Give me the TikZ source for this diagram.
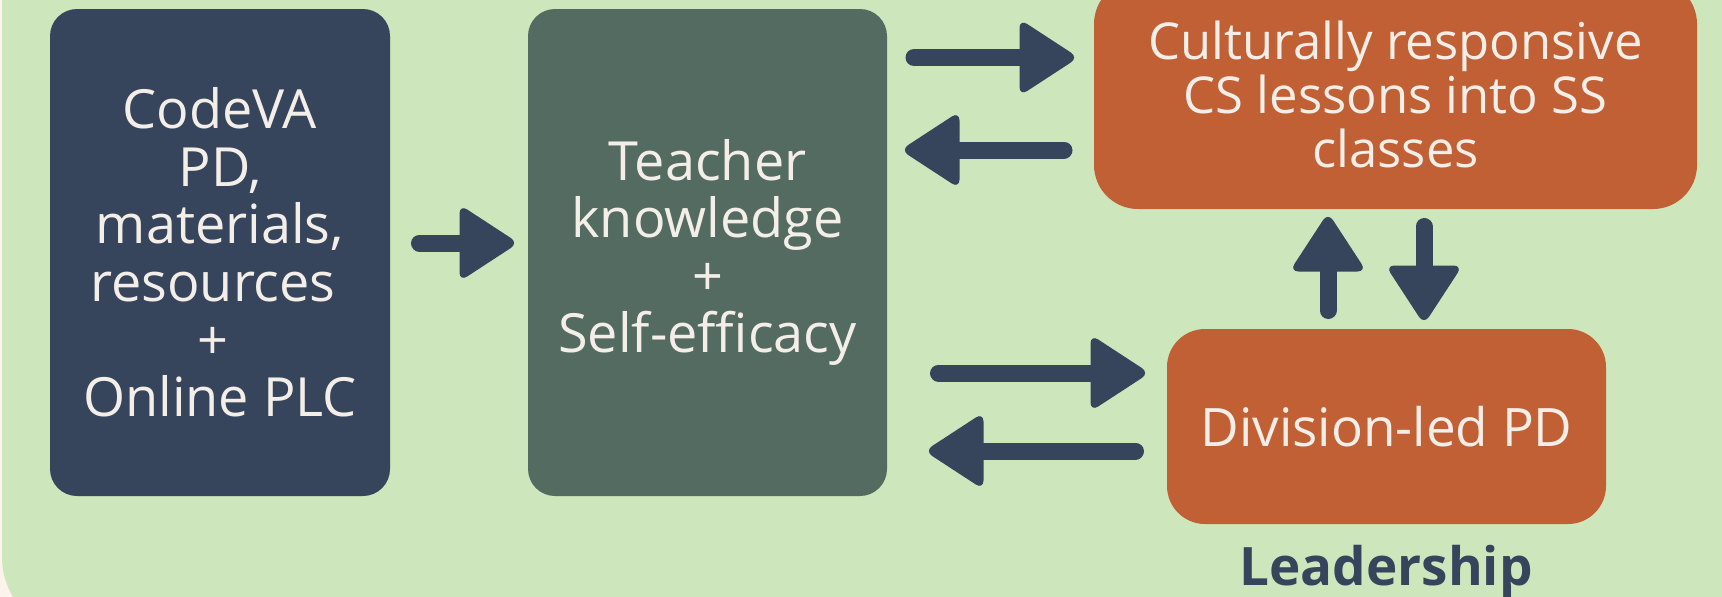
\documentclass[tikz,border=0pt]{standalone}
\usepackage{fontspec}
\setmainfont{Open Sans}
\usetikzlibrary{calc}

\definecolor{bggreen}{HTML}{CDE6BC}
\definecolor{cream}{HTML}{FCF3EA}
\definecolor{navy}{HTML}{36455C}
\definecolor{slate}{HTML}{536B61}
\definecolor{rust}{HTML}{C06034}
\definecolor{paper}{HTML}{F4EEE8}

\tikzset{
  panel/.style={rectangle, inner sep=0pt, align=center, text=paper,
    font=\fontsize{54pt}{57.6pt}\selectfont},
  blkshaft/.style={draw=navy, line width=17pt, line cap=round},
  blkhead/.style={fill=navy, rounded corners=9pt}
}

% block arrow from #1 to #2; the rounded tip ends at #2
\newcommand{\blockarrow}[2]{%
  \draw[blkshaft] (#1) -- ($(#2)!48pt!(#1)$);
  \fill[blkhead] ($(#2)!-5.5pt!(#1)$)
    -- ($(#2)!-5.5pt!(#1)!59pt!(#1)!38.5pt!90:(#1)$)
    -- ($(#2)!-5.5pt!(#1)!59pt!(#1)!38.5pt!-90:(#1)$) -- cycle;
}

\begin{document}
\begin{tikzpicture}[x=1pt, y=-1pt]
  \useasboundingbox (0,0) rectangle (1722,597);
  \fill[cream] (0,0) rectangle (1722,597);
  \fill[bggreen, rounded corners=78pt] (2,-100) rectangle (1800,635);

  \node[panel, fill=navy, rounded corners=27pt,
        minimum width=340pt, minimum height=487pt] (codeva) at (220,252.5)
    {CodeVA\\PD,\\materials,\\resources\kern0.26em\\+\kern0.26em\\Online PLC};

  \node[panel, fill=slate, rounded corners=27pt,
        minimum width=359pt, minimum height=487pt] (teacher) at (707.5,252.5)
    {Teacher\\knowledge\\+\\Self-efficacy};

  \node[panel, fill=rust, rounded corners=44pt,
        minimum width=603pt, minimum height=229pt,
        font=\fontsize{50.8pt}{53.8pt}\selectfont] (lessons) at (1395.5,94.5)
    {Culturally responsive\\CS lessons into SS\\classes};

  \node[panel, fill=rust, rounded corners=38pt,
        minimum width=439pt, minimum height=195pt,
        font=\fontsize{53pt}{57pt}\selectfont] (division) at (1386.5,426.5)
    {Division-led PD};

  \node[anchor=base, text=navy, font=\bfseries\fontsize{53pt}{57pt}\selectfont]
    (lead) at (1386,585) {Leadership};

  % arrow end points
  \coordinate (a1s) at (419.5,243);
  \coordinate (a1e) at (513,243);
  \coordinate (a2s) at (914,57.5);
  \coordinate (a2e) at (1073,57.5);
  \coordinate (a3s) at (1064,150);
  \coordinate (a3e) at (906,150);
  \coordinate (a4s) at (1328,310.5);
  \coordinate (a4e) at (1328,218);
  \coordinate (a5s) at (1424,226.5);
  \coordinate (a5e) at (1424,319);
  \coordinate (a6s) at (938.5,373);
  \coordinate (a6e) at (1144,373);
  \coordinate (a7s) at (1135.5,451);
  \coordinate (a7e) at (930,451);

  \blockarrow{a1s}{a1e}
  \blockarrow{a2s}{a2e}
  \blockarrow{a3s}{a3e}
  \blockarrow{a4s}{a4e}
  \blockarrow{a5s}{a5e}
  \blockarrow{a6s}{a6e}
  \blockarrow{a7s}{a7e}
\end{tikzpicture}
\end{document}
